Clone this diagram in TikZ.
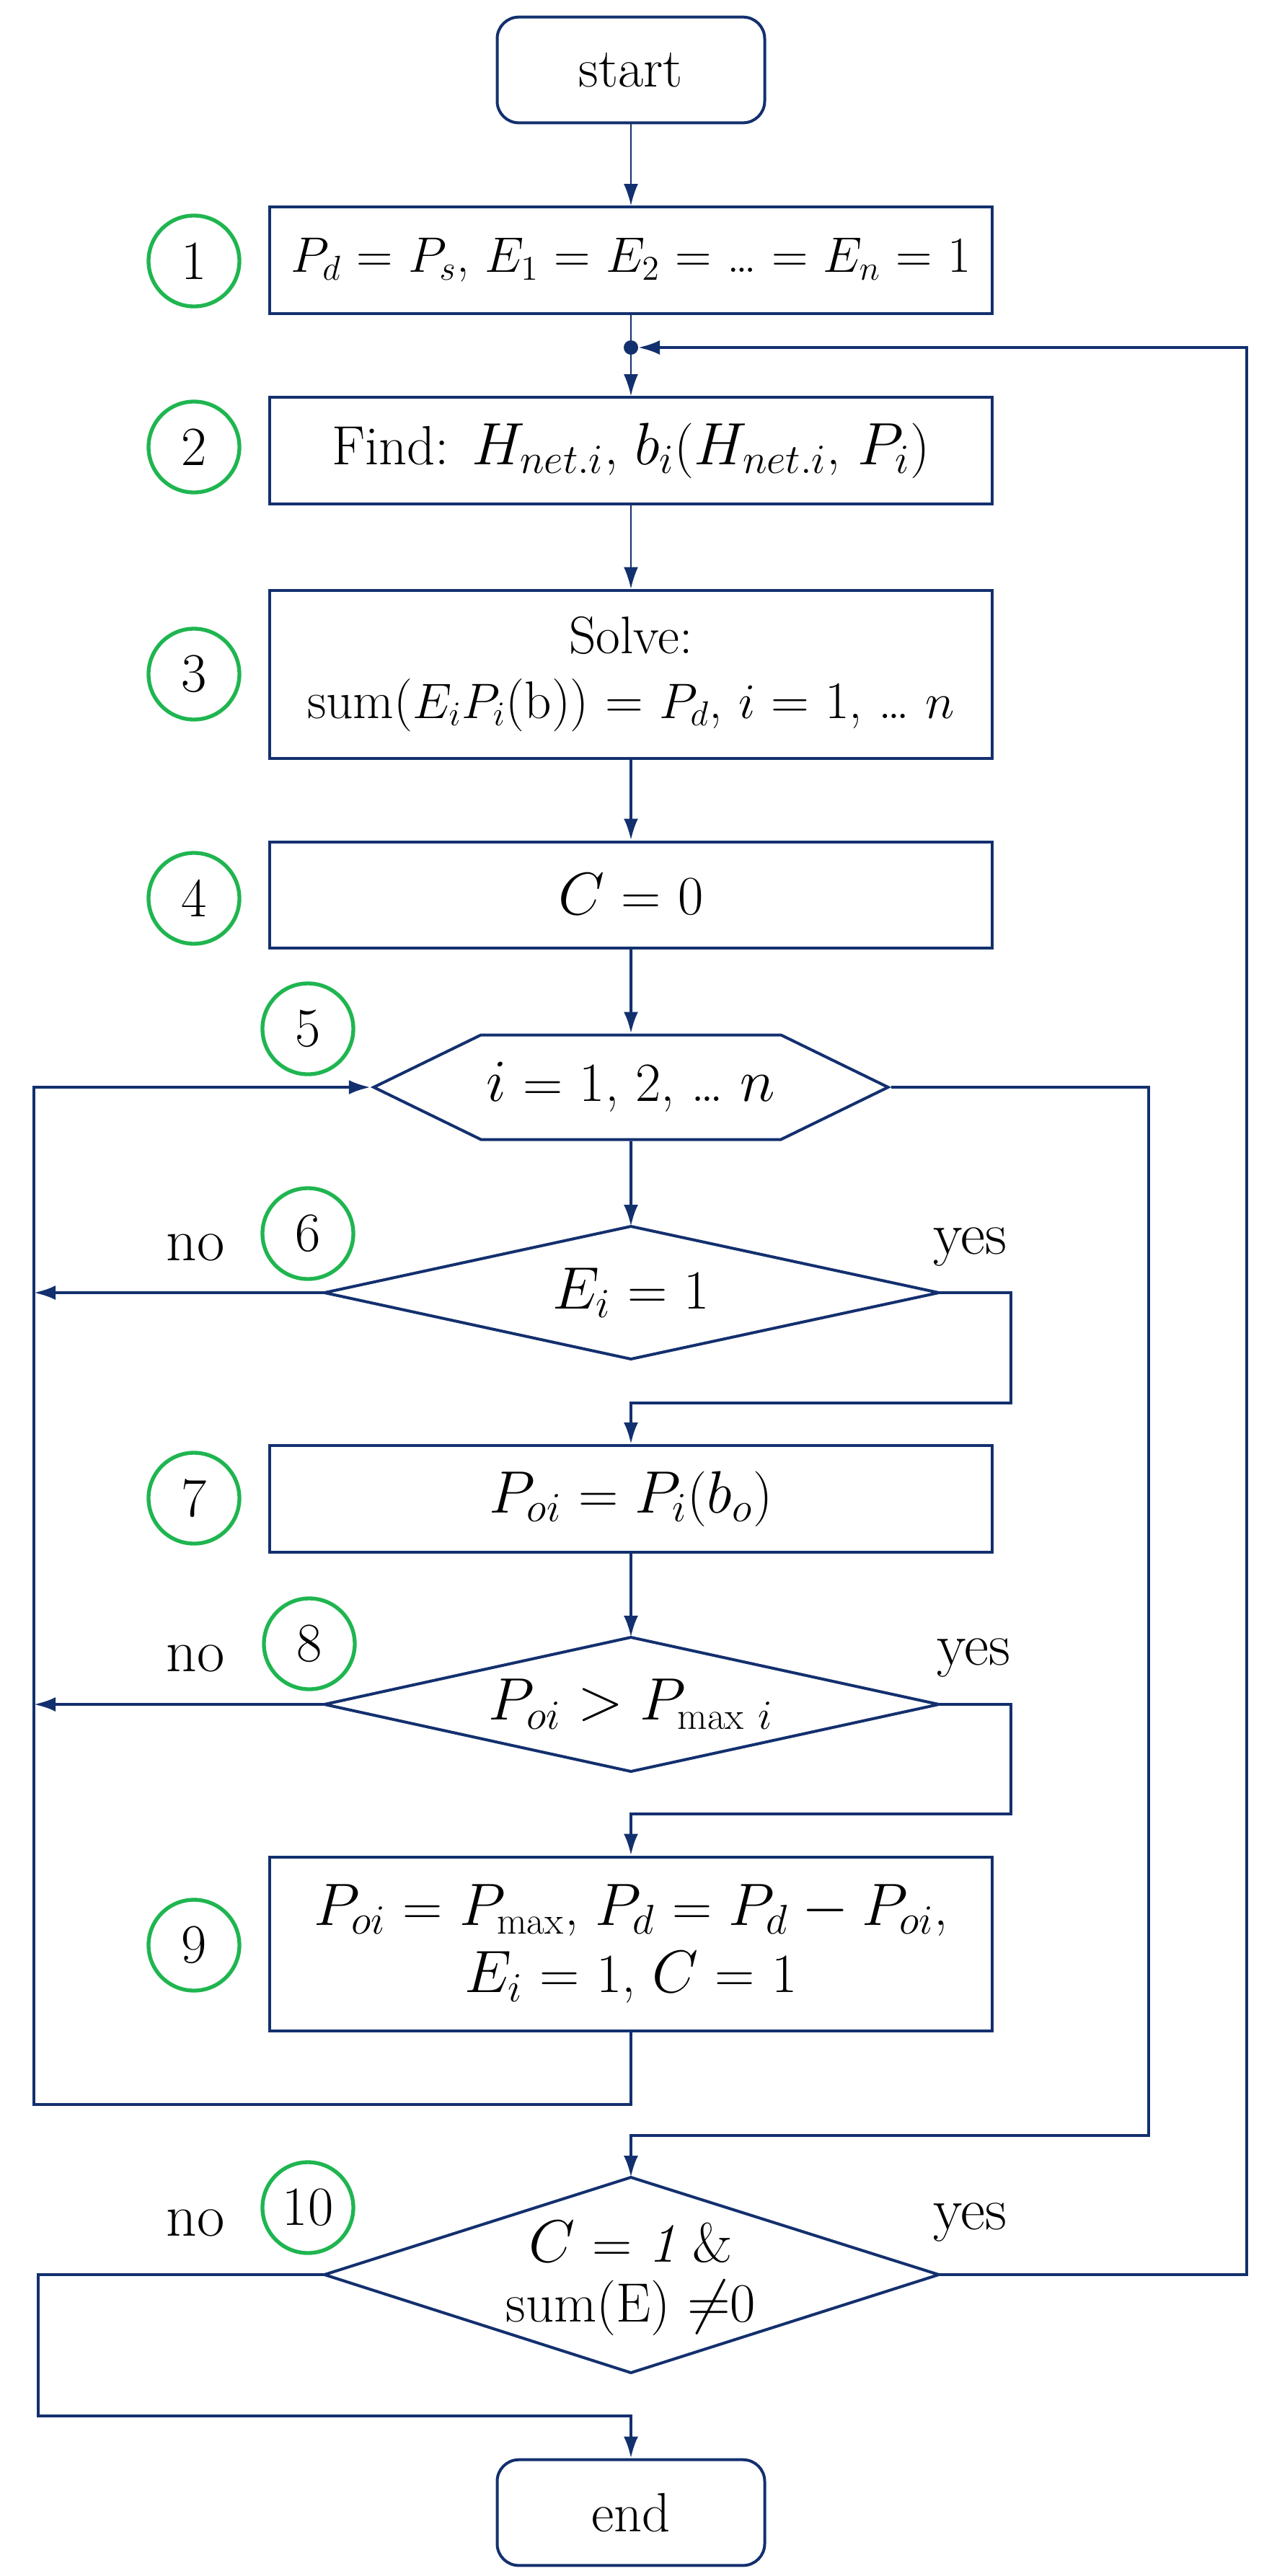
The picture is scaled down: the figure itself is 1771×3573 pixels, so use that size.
\documentclass[tikz,border=0pt]{standalone}
\usepackage{fontspec}
\usetikzlibrary{shapes.geometric,shapes.symbols,arrows.meta}
\definecolor{navy}{HTML}{13306E}
\definecolor{grn}{HTML}{1FB550}
\begin{document}
\begin{tikzpicture}[x=0.3pt,y=-0.3pt,
  every node/.style={font=\fontsize{23}{28}\selectfont},
  box/.style={draw=navy,line width=1.2pt,rectangle,minimum width=300.6pt,align=center,inner sep=2pt},
  term/.style={draw=navy,line width=1.2pt,rectangle,rounded corners=9pt,minimum width=111.3pt,minimum height=44pt},
  dtext/.style={align=center,inner sep=0pt,font=\fontsize{23}{25}\selectfont},
  num/.style={draw=grn,line width=1.6pt,circle,minimum size=37.8pt,inner sep=0pt},
  lab/.style={font=\fontsize{25}{28}\selectfont},
  ln/.style={draw=navy,line width=1.2pt},
  thin/.style={draw=navy,line width=0.6pt},
  arr/.style={-{Latex[length=9pt,width=6pt]}}]
\useasboundingbox (0,0) rectangle (1771,3573);
\node[term] (start) at (875,97) {start};
\node[box,minimum height=44.4pt,font=\fontsize{21}{26}\selectfont] (b1) at (875,361) {$P_d$ = $P_s$, $E_1$ = $E_2$ = \dots{} = $E_n$ = 1};
\node[box,minimum height=44.4pt] (b2) at (875,625) {Find: $H_{net.i}$, $b_i$($H_{net.i}$, $P_i$)};
\node[box,minimum height=69.9pt,font=\fontsize{22}{27}\selectfont] (b3) at (875,935) {Solve:\\ sum($E_iP_i$(b)) = $P_d$, $i$ = 1, \dots{} $n$};
\node[box,minimum height=44.1pt] (b4) at (875,1241) {$C$ = 0};
\node[draw=navy,line width=1.2pt,signal,signal to=west and east,signal pointer angle=52,minimum width=214pt,minimum height=43.5pt,inner sep=0pt] (hex) at (875,1508) {$i$ = 1, 2, \dots{} $n$};
% diamond 6
\coordinate (d6t) at (875,1701); \coordinate (d6b) at (875,1885);
\coordinate (d6l) at (450,1793); \coordinate (d6r) at (1302,1793);
\draw[ln] (d6t) -- (d6r) -- (d6b) -- (d6l) -- cycle;
\node[dtext] (d6) at (875,1793) {$E_i$ = 1};
\node[box,minimum height=44.4pt] (b7) at (875,2079) {$P_{oi}$ = $P_i$($b_o$)};
% diamond 8
\coordinate (d8t) at (875,2271); \coordinate (d8b) at (875,2457);
\coordinate (d8l) at (450,2364); \coordinate (d8r) at (1302,2364);
\draw[ln] (d8t) -- (d8r) -- (d8b) -- (d8l) -- cycle;
\node[dtext] (d8) at (875,2364) {$P_{oi} > P_{\max\,i}$};
\node[box,minimum height=72.3pt] (b9) at (875,2696) {$P_{oi}$ = $P_{\max}$, $P_d$ = $P_d - P_{oi}$,\\ $E_i$ = 1, $C$ = 1};
% diamond 10
\coordinate (d10t) at (875,3020); \coordinate (d10b) at (875,3291);
\coordinate (d10l) at (450,3155); \coordinate (d10r) at (1302,3155);
\draw[ln] (d10t) -- (d10r) -- (d10b) -- (d10l) -- cycle;
\node[dtext] (d10) at (875,3160) {$C$ = $\mathit{1}$ \&\\ sum(E) $\neq$0};
\node[term] (end) at (875,3485) {end};
\node[num] (n1) at (269,362) {1};
\node[num] (n2) at (269,620) {2};
\node[num] (n3) at (269,935) {3};
\node[num] (n4) at (269,1246) {4};
\node[num] (n5) at (427,1427) {5};
\node[num] (n6) at (427,1711) {6};
\node[num] (n7) at (269,2078) {7};
\node[num] (n8) at (429,2280) {8};
\node[num] (n9) at (269,2698) {9};
\node[num] (n10) at (427,3062) {10};
\node[lab] (no6) at (271,1730) {no};
\node[lab] (yes6) at (1345,1730) {yes};
\node[lab] (no8) at (271,2300) {no};
\node[lab] (yes8) at (1350,2300) {yes};
\node[lab] (no10) at (271,3083) {no};
\node[lab] (yes10) at (1345,3083) {yes};
\coordinate (dot) at (875,482);
\fill[navy] (dot) circle (10);
\coordinate (c6a) at (1402,1793); \coordinate (c6b) at (1402,1946); \coordinate (c6c) at (875,1946);
\coordinate (c6l) at (47,1793);
\coordinate (c8a) at (1402,2364); \coordinate (c8b) at (1402,2516); \coordinate (c8c) at (875,2516);
\coordinate (c8l) at (47,2364);
\coordinate (c9a) at (875,2919); \coordinate (c9b) at (47,2919); \coordinate (c9c) at (47,1508);
\coordinate (ha) at (1593,1508); \coordinate (hb) at (1593,2962); \coordinate (hc) at (875,2962);
\coordinate (t1) at (53,3155); \coordinate (t2) at (53,3351); \coordinate (t3) at (875,3351);
\coordinate (y1) at (1729,3155); \coordinate (y2) at (1729,482); \coordinate (dotr) at (885,482);
\draw[thin,arr] (start) -- (b1);
\draw[thin] (b1) -- (dot);
\draw[thin,arr] (dot) -- (b2);
\draw[thin,arr] (b2) -- (b3);
\draw[ln,arr] (b3) -- (b4);
\draw[ln,arr] (b4) -- (hex);
\draw[ln,arr] (hex) -- (d6t);
\draw[ln,arr] (d6r) -- (c6a) -- (c6b) -- (c6c) -- (b7);
\draw[ln,arr] (d6l) -- (c6l);
\draw[ln,arr] (b7) -- (d8t);
\draw[ln,arr] (d8l) -- (c8l);
\draw[ln,arr] (d8r) -- (c8a) -- (c8b) -- (c8c) -- (b9);
\draw[ln,arr] (b9.south) -- (c9a) -- (c9b) -- (c9c) -- (hex.west);
\draw[ln,arr] (hex.east) -- (ha) -- (hb) -- (hc) -- (d10t);
\draw[ln,arr] (d10l) -- (t1) -- (t2) -- (t3) -- (end);
\draw[ln,arr] (d10r) -- (y1) -- (y2) -- (dotr);
\end{tikzpicture}
\end{document}
